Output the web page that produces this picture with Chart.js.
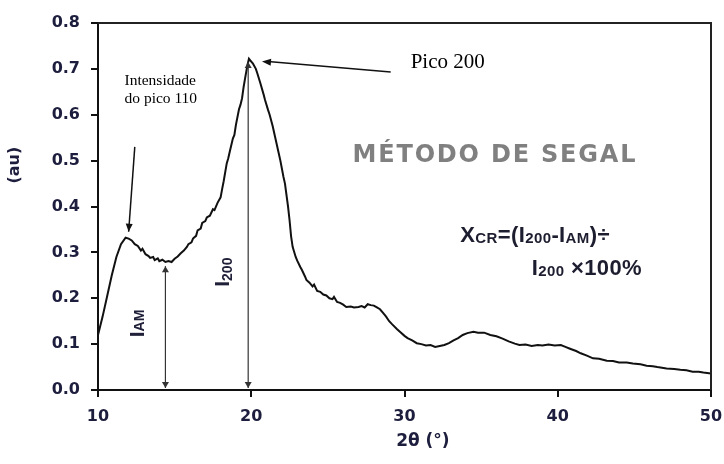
<!DOCTYPE html>
<html>
<head>
<meta charset="utf-8">
<script src="https://cdn.jsdelivr.net/npm/chart.js@4"></script>
<style>
  body { margin: 0; background: #fff; }
  canvas { display: block; }
</style>
</head>
<body>
<canvas id="xrd" width="724" height="464"></canvas>
<script>
// diffractogram: 2-theta (deg) vs intensity (au)
const twoTheta = [
  10.0, 10.3, 10.6, 10.9, 11.2, 11.5, 11.8, 12.0, 12.2, 12.4,
  12.6, 12.8, 12.9, 13.1, 13.3, 13.4, 13.6, 13.7, 13.9, 14.0,
  14.2, 14.4, 14.6, 14.8, 15.0, 15.2, 15.4, 15.6, 15.8, 15.9,
  16.1, 16.2, 16.4, 16.5, 16.7, 16.8, 17.0, 17.1, 17.3, 17.5,
  17.6, 17.8, 18.0, 18.1, 18.2, 18.4, 18.5, 18.6, 18.8, 18.9,
  19.0, 19.2, 19.3, 19.4, 19.5, 19.6, 19.75, 19.85, 20.0, 20.1,
  20.3, 20.4, 20.6, 20.8, 20.9, 21.1, 21.2, 21.4, 21.6, 21.8,
  21.9, 22.1, 22.2, 22.4, 22.5, 22.6, 22.7, 22.9, 23.0, 23.2,
  23.3, 23.5, 23.6, 23.8, 24.0, 24.1, 24.3, 24.5, 24.7, 24.9,
  25.1, 25.3, 25.4, 25.6, 25.8, 26.0, 26.2, 26.5, 26.7, 27.0,
  27.2, 27.4, 27.6, 27.8, 28.0, 28.2, 28.4, 28.6, 28.8, 29.0,
  29.2, 29.5, 29.7, 30.0, 30.2, 30.5, 30.8, 31.1, 31.4, 31.7,
  32.0, 32.3, 32.6, 32.9, 33.2, 33.5, 33.8, 34.1, 34.5, 34.8,
  35.2, 35.6, 36.0, 36.4, 36.8, 37.2, 37.5, 37.9, 38.3, 38.7,
  39.0, 39.4, 39.8, 40.2, 40.5, 40.8, 41.2, 41.5, 41.9, 42.3,
  42.7, 43.2, 43.6, 44.0, 44.5, 44.9, 45.4, 45.8, 46.2, 46.5,
  47.1, 47.6, 48.0, 48.4, 48.8, 49.2, 49.5, 50.0
];
const intensity = [
  0.120, 0.160, 0.205, 0.250, 0.290, 0.318, 0.332, 0.330, 0.326, 0.318,
  0.314, 0.304, 0.308, 0.296, 0.292, 0.288, 0.290, 0.283, 0.287, 0.281,
  0.284, 0.279, 0.281, 0.279, 0.286, 0.291, 0.298, 0.304, 0.312, 0.318,
  0.322, 0.330, 0.336, 0.348, 0.352, 0.364, 0.368, 0.376, 0.380, 0.394,
  0.392, 0.408, 0.420, 0.438, 0.455, 0.494, 0.505, 0.520, 0.548, 0.556,
  0.578, 0.612, 0.622, 0.636, 0.660, 0.680, 0.708, 0.722, 0.716, 0.712,
  0.700, 0.690, 0.668, 0.645, 0.632, 0.610, 0.600, 0.575, 0.545, 0.515,
  0.500, 0.465, 0.450, 0.400, 0.370, 0.335, 0.312, 0.290, 0.282, 0.268,
  0.262, 0.248, 0.240, 0.234, 0.226, 0.230, 0.216, 0.214, 0.208, 0.206,
  0.200, 0.198, 0.203, 0.192, 0.190, 0.186, 0.181, 0.182, 0.180, 0.181,
  0.183, 0.180, 0.187, 0.185, 0.184, 0.180, 0.176, 0.168, 0.160, 0.150,
  0.143, 0.133, 0.127, 0.118, 0.113, 0.108, 0.102, 0.100, 0.097, 0.098,
  0.094, 0.096, 0.098, 0.102, 0.108, 0.113, 0.120, 0.124, 0.127, 0.125,
  0.125, 0.120, 0.117, 0.112, 0.106, 0.101, 0.098, 0.099, 0.096, 0.098,
  0.097, 0.099, 0.097, 0.098, 0.094, 0.090, 0.085, 0.080, 0.075, 0.069,
  0.068, 0.064, 0.063, 0.060, 0.060, 0.058, 0.056, 0.053, 0.052, 0.050,
  0.047, 0.046, 0.044, 0.043, 0.040, 0.040, 0.038, 0.036
];
const xTickValues = [10, 20, 30, 40, 50];
const yTickValues = [0, 0.1, 0.2, 0.3, 0.4, 0.5, 0.6, 0.7, 0.8];

// reference points used by the Segal annotations
const peak110 = { x: 12.0, y: 0.345 };
const amorphous = { x: 14.4, y: 0.27 };
const peak200 = { x: 19.8, y: 0.715 };

const tickColor = '#1d1d3d';
const tickFont = { family: 'DejaVu Sans', weight: 'bold', size: 16 };

function arrowHead(ctx, x1, y1, x2, y2, len, half) {
  const a = Math.atan2(y2 - y1, x2 - x1);
  ctx.beginPath();
  ctx.moveTo(x2, y2);
  ctx.lineTo(x2 - len * Math.cos(a) + half * Math.sin(a), y2 - len * Math.sin(a) - half * Math.cos(a));
  ctx.lineTo(x2 - len * Math.cos(a) - half * Math.sin(a), y2 - len * Math.sin(a) + half * Math.cos(a));
  ctx.closePath();
  ctx.fill();
}

// text made of normal pieces and subscript pieces, left to right from (x, y)
function subText(ctx, parts, x, y, mainFont, subFont, subDrop) {
  let cx = x;
  parts.forEach(([t, sub]) => {
    ctx.font = sub ? subFont : mainFont;
    ctx.fillText(t, cx, sub ? y + subDrop : y);
    cx += ctx.measureText(t).width;
  });
  return cx - x;
}

const segalNotes = {
  id: 'segalNotes',
  afterDatasetsDraw(chart) {
    const ctx = chart.ctx;
    const xs = chart.scales.x, ys = chart.scales.y;
    const area = chart.chartArea;
    const px = v => xs.getPixelForValue(v);
    const py = v => ys.getPixelForValue(v);
    ctx.save();

    // frame on top and right
    ctx.strokeStyle = '#222';
    ctx.lineWidth = 2;
    ctx.beginPath();
    ctx.moveTo(area.left, area.top);
    ctx.lineTo(area.right, area.top);
    ctx.lineTo(area.right, area.bottom);
    ctx.stroke();

    // double arrows for I_AM and I_200
    ctx.strokeStyle = '#333';
    ctx.fillStyle = '#333';
    ctx.lineWidth = 1.2;
    [amorphous, peak200].forEach(p => {
      const x = px(p.x), y0 = py(0) - 2, y1 = py(p.y);
      ctx.beginPath();
      ctx.moveTo(x, y0);
      ctx.lineTo(x, y1);
      ctx.stroke();
      arrowHead(ctx, x, y1, x, y0, 6, 3.5);
      arrowHead(ctx, x, y0, x, y1, 6, 3.5);
    });

    // arrow to the 110 peak
    ctx.strokeStyle = '#111';
    ctx.fillStyle = '#111';
    ctx.lineWidth = 1.5;
    let ax = px(12.4), ay = py(0.53), bx = px(peak110.x), by = py(peak110.y);
    ctx.beginPath();
    ctx.moveTo(ax, ay);
    ctx.lineTo(bx, by);
    ctx.stroke();
    arrowHead(ctx, ax, ay, bx, by, 8, 3.5);

    // arrow to the 200 peak
    ax = px(29.1); ay = py(0.693); bx = px(20.7); by = py(0.716);
    ctx.beginPath();
    ctx.moveTo(ax, ay);
    ctx.lineTo(bx + 6, by);
    ctx.stroke();
    arrowHead(ctx, ax, ay, bx, by, 9, 3.5);

    // serif notes
    ctx.fillStyle = '#000';
    ctx.textAlign = 'left';
    ctx.textBaseline = 'alphabetic';
    ctx.font = '15.5px "Liberation Serif"';
    ctx.fillText('Intensidade', px(11.73), py(0.665));
    ctx.fillText('do pico 110', px(11.73), py(0.626));
    ctx.font = '21px "Liberation Serif"';
    ctx.fillText('Pico 200', px(30.4), py(0.702));

    // method title
    ctx.fillStyle = '#808080';
    ctx.font = 'bold 24px "DejaVu Sans"';
    ctx.letterSpacing = '1.8px';
    ctx.textAlign = 'center';
    ctx.fillText('MÉTODO DE SEGAL', px(35.9), py(0.497));
    ctx.letterSpacing = '0px';
    ctx.textAlign = 'left';

    // crystallinity formula
    ctx.fillStyle = '#1d1d30';
    ctx.letterSpacing = '0.4px';
    const mainF = 'bold 22px "Liberation Sans"', subF = 'bold 15px "Liberation Sans"';
    subText(ctx, [['X', 0], ['CR', 1], ['=(I', 0], ['200', 1], ['-I', 0], ['AM', 1], [')÷', 0]],
      px(33.63), py(0.323), mainF, subF, 1);
    subText(ctx, [['I', 0], ['200', 1], [' ×100%', 0]], px(38.3), py(0.2505), mainF, subF, 1);
    ctx.letterSpacing = '0px';

    // rotated labels beside the arrows
    ctx.fillStyle = '#20203a';
    ctx.save();
    ctx.translate(px(14.05) - 16, py(0.115));
    ctx.rotate(-Math.PI / 2);
    subText(ctx, [['I', 0], ['AM', 1]], 0, 0, 'bold 21px "Liberation Sans"', 'bold 14px "Liberation Sans"', 0);
    ctx.restore();
    ctx.save();
    ctx.translate(px(19.8) - 19, py(0.225));
    ctx.rotate(-Math.PI / 2);
    subText(ctx, [['I', 0], ['200', 1]], 0, 0, 'bold 21px "Liberation Sans"', 'bold 14px "Liberation Sans"', 3);
    ctx.restore();

    // axis titles
    ctx.fillStyle = tickColor;
    ctx.font = 'bold 17px "DejaVu Sans"';
    ctx.textAlign = 'center';
    ctx.textBaseline = 'middle';
    ctx.fillText('2θ (°)', px(31.2), 442);
    ctx.save();
    ctx.translate(15, py(0.49));
    ctx.rotate(-Math.PI / 2);
    ctx.font = 'bold 16px "DejaVu Sans"';
    ctx.fillText('(au)', 0, 0);
    ctx.restore();

    ctx.restore();
  }
};

const ctx = document.getElementById('xrd').getContext('2d');
new Chart(ctx, {
  type: 'line',
  data: {
    datasets: [{
      data: twoTheta.map((t, i) => ({ x: t, y: intensity[i] })),
      borderColor: '#111',
      borderWidth: 2,
      pointRadius: 0,
      tension: 0
    }]
  },
  options: {
    responsive: false,
    animation: false,
    layout: { padding: { top: 23, right: 13, left: 0, bottom: 0 } },
    plugins: { legend: { display: false }, tooltip: { enabled: false } },
    scales: {
      x: {
        type: 'linear',
        min: 10,
        max: 50,
        afterBuildTicks: s => { s.ticks = xTickValues.map(v => ({ value: v })); },
        afterFit: s => { s.height = 74; s.paddingLeft = 0; s.paddingRight = 0; },
        grid: { drawOnChartArea: false, tickLength: 7, color: '#111', lineWidth: 2 },
        border: { color: '#111', width: 2 },
        ticks: { padding: 10, color: tickColor, font: tickFont, callback: v => v }
      },
      y: {
        min: 0,
        max: 0.8,
        afterBuildTicks: s => { s.ticks = yTickValues.map(v => ({ value: v })); },
        afterFit: s => { s.width = 98; s.paddingTop = 0; s.paddingBottom = 0; },
        grid: { drawOnChartArea: false, tickLength: 7, color: '#111', lineWidth: 2 },
        border: { color: '#111', width: 2 },
        ticks: { padding: 11, color: tickColor, font: tickFont, callback: v => v.toFixed(1) }
      }
    }
  },
  plugins: [segalNotes]
});
</script>
</body>
</html>
